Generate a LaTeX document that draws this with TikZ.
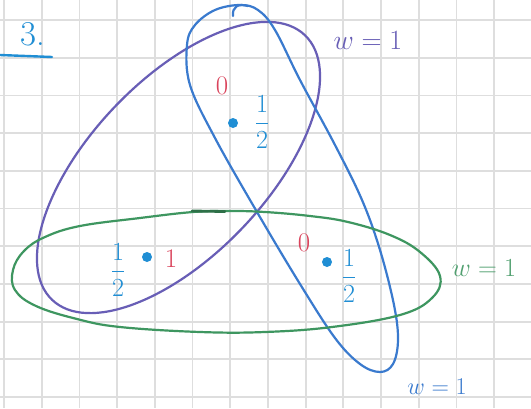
\documentclass[tikz,border=0pt]{standalone}
\usepackage{amsmath}
\usepackage{graphicx}
\usepackage{xcolor}
\definecolor{hpurple}{RGB}{104,94,182}
\definecolor{hblue}{RGB}{58,122,206}
\definecolor{hgreen}{RGB}{62,150,96}
\definecolor{hred}{RGB}{218,68,92}
\definecolor{hcyan}{RGB}{32,142,212}
\tikzset{
    gridline/.style={
        line width=1.8pt,
        draw=black!13
    },
    hyperedge/.style={
        line width=2.2pt,
        line cap=round,
        line join=round
    },
    vertex/.style={
        circle,
        fill=hcyan,
        inner sep=0pt,
        minimum size=10pt
    },
    value/.style={
        text=hcyan,
        font=\Huge
    },
    potential/.style={
        text=hred,
        font=\Huge
    },
    weight/.style={
        font=\Huge
    }
}
\begin{document}
\begin{tikzpicture}[x=1pt,y=-1pt]

      \useasboundingbox (0,0) rectangle (531,408);
      \fill[white] (0,0) rectangle (531,408);

      % squared paper
      \foreach \gx in {0,...,13}
        \draw[gridline] ({4+37.7*\gx},0) -- ({4+37.7*\gx},408);
      \foreach \gy in {0,...,10}
        \draw[gridline] (0,{20+37.7*\gy}) -- (531,{20+37.7*\gy});

      % title
      \node[text=hcyan, font=\Huge] (title) at (33,34) {\scalebox{1.4}{3.}};
      \draw[hcyan, line width=2.4pt, line cap=round] (0,55) -- (52,57);

      % hyperedges
      \draw[hyperedge, hpurple, rotate around={46.3:(178.5,167.5)}]
        (178.5,167.5) ellipse [x radius=183, y radius=88];
      \draw[hyperedge, hblue] plot[smooth cycle, tension=0.6] coordinates {
        (240,5) (258,10) (275,30) (300,80) (335,145) (362,200) (380,250)
        (394,305) (398,340) (393,364) (380,372) (360,364) (335,338)
        (300,284) (257,212) (215,138) (190,85) (187,45) (195,25) (215,10)};
      \draw[hyperedge, hblue] (233,16) .. controls (232,7) and (238,3) .. (248,6);
      \draw[hyperedge, hgreen] plot[smooth cycle, tension=0.65] coordinates {
        (13,270) (24,251) (45,237) (80,226) (140,218) (193,212) (230,211)
        (265,212) (310,216) (348,222) (390,235) (420,252) (440,276)
        (432,298) (400,315) (332,327) (265,332) (200,332) (120,327)
        (77,319) (36,306) (15,290)};
      \draw[hgreen!75!black, line width=2.8pt, line cap=round] (192,211) -- (225,211.5);

      % vertices
      \node[vertex] (top) at (233,123) {};
      \node[vertex] (left) at (147,257) {};
      \node[vertex] (right) at (327,262) {};

      \node[value] (topval) at (262,122) {\scalebox{1.05}{$\displaystyle\frac{1}{2}$}};
      \node[value] (leftval) at (118,270) {\scalebox{1.05}{$\displaystyle\frac{1}{2}$}};
      \node[value] (rightval) at (349,276) {\scalebox{1.05}{$\displaystyle\frac{1}{2}$}};

      \node[potential] (toppot) at (222,86) {\scalebox{1.08}{0}};
      \node[potential] (leftpot) at (171,259) {\scalebox{1.08}{1}};
      \node[potential] (rightpot) at (304,243) {\scalebox{1.08}{0}};

      % weights
      \node[weight, text=hpurple] (wpurple) at (368,41) {\scalebox{1.12}{$w = 1$}};
      \node[weight, text=hgreen!90!white] (wgreen) at (484,268) {\scalebox{1.05}{$w = 1$}};
      \node[weight, text=hblue] (wblue) at (437,387) {\scalebox{0.97}{$w = 1$}};

    \end{tikzpicture}
\end{document}
